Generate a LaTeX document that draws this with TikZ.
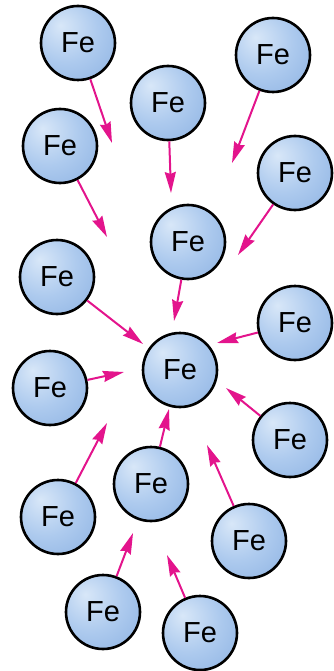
\documentclass[tikz,border=0pt]{standalone}
\usepackage{fontspec}
\setsansfont{Liberation Sans}
\usetikzlibrary{arrows.meta}
\definecolor{ironlight}{HTML}{D8E7F8}
\definecolor{ironmid}{HTML}{ADCAEE}
\definecolor{irondark}{HTML}{76A1DA}
\definecolor{pull}{HTML}{E3148C}
\pgfdeclareradialshading{ironball}{\pgfpoint{-12bp}{12bp}}{%
    color(0bp)=(ironlight); color(22bp)=(ironmid);
    color(60bp)=(irondark); color(80bp)=(irondark)}
\tikzset{
    atom/.style={circle, draw, line width=2.6pt, minimum size=74pt,
                 inner sep=0pt, shade, shading=ironball,
                 font=\sffamily\fontsize{29}{29}\selectfont},
    attract/.style={-{Stealth[length=21pt, width=11pt, inset=2pt]},
                    line width=2pt, draw=pull, fill=pull},
}
\newcommand{\pullarrow}[2]{
    \draw[attract] (#1) -- (#2);
}

\begin{document}
\begin{tikzpicture}[x=1pt, y=-1pt]
    \path[use as bounding box] (0,0) rectangle (334,671);

    % iron atoms
    \node[atom] (fea) at (78,43) {Fe};
    \node[atom] (feb) at (168,103) {Fe};
    \node[atom] (fec) at (273,55) {Fe};
    \node[atom] (fed) at (60,146) {Fe};
    \node[atom] (fee) at (295,173) {Fe};
    \node[atom] (fef) at (188,242) {Fe};
    \node[atom] (feg) at (57,277) {Fe};
    \node[atom] (feh) at (295,323) {Fe};
    \node[atom] (core) at (180,370) {Fe};
    \node[atom] (fej) at (50,388) {Fe};
    \node[atom] (fek) at (290,440) {Fe};
    \node[atom] (fel) at (151,484) {Fe};
    \node[atom] (fem) at (58,517) {Fe};
    \node[atom] (fen) at (249,541) {Fe};
    \node[atom] (feo) at (103,612) {Fe};
    \node[atom] (fep) at (200,633) {Fe};

    % where each pull ends
    \coordinate (ta) at (112,143);
    \coordinate (tb) at (171,193);
    \coordinate (tc) at (232,163);
    \coordinate (td) at (107,237);
    \coordinate (te) at (238,255);
    \coordinate (tf) at (174,321);
    \coordinate (tg) at (143,344);
    \coordinate (th) at (217,343);
    \coordinate (tj) at (124,372);
    \coordinate (tk) at (226,388);
    \coordinate (tl) at (169,409);
    \coordinate (tm) at (107,423);
    \coordinate (tn) at (207,445);
    \coordinate (to) at (133,533);
    \coordinate (tp) at (167,555);

    \pullarrow{fea}{ta}
    \pullarrow{feb}{tb}
    \pullarrow{fec}{tc}
    \pullarrow{fed}{td}
    \pullarrow{fee}{te}
    \pullarrow{fef}{tf}
    \pullarrow{feg}{tg}
    \pullarrow{feh}{th}
    \pullarrow{fej}{tj}
    \pullarrow{fek}{tk}
    \pullarrow{fel}{tl}
    \pullarrow{fem}{tm}
    \pullarrow{fen}{tn}
    \pullarrow{feo}{to}
    \pullarrow{fep}{tp}

\end{tikzpicture}
\end{document}
